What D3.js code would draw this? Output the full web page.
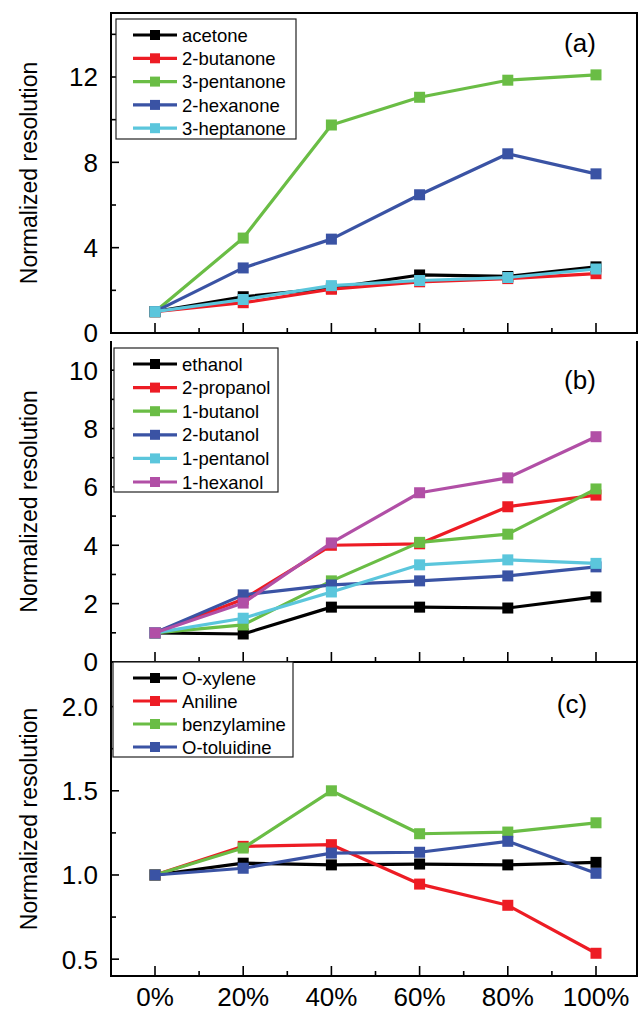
<!DOCTYPE html>
<html>
<head>
<meta charset="utf-8">
<script src="https://cdn.jsdelivr.net/npm/d3@7"></script>
<style>
  html, body { margin: 0; padding: 0; background: #fff; }
  svg { display: block; font-family: "Liberation Sans", Arial, sans-serif; }
</style>
</head>
<body>
<svg id="chart" width="639" height="1011"></svg>
<script>
// x categories (solvent fraction)
const xValues = [0, 20, 40, 60, 80, 100];
const xLabels = ["0%", "20%", "40%", "60%", "80%", "100%"];

// panel (a) ketones
const ketoneNames = ["acetone", "2-butanone", "3-pentanone", "2-hexanone", "3-heptanone"];
const acetone    = [1.0, 1.7, 2.1, 2.72, 2.65, 3.1];
const butanone2  = [1.0, 1.42, 2.05, 2.4, 2.55, 2.78];
const pentanone3 = [1.0, 4.45, 9.75, 11.05, 11.85, 12.1];
const hexanone2  = [1.0, 3.05, 4.4, 6.48, 8.4, 7.46];
const heptanone3 = [1.0, 1.57, 2.22, 2.46, 2.6, 3.0];

// panel (b) alcohols
const alcoholNames = ["ethanol", "2-propanol", "1-butanol", "2-butanol", "1-pentanol", "1-hexanol"];
const ethanol    = [1.0, 0.96, 1.88, 1.88, 1.85, 2.23];
const propanol2  = [1.0, 2.15, 4.0, 4.05, 5.32, 5.72];
const butanol1   = [1.0, 1.27, 2.78, 4.1, 4.38, 5.93];
const butanol2   = [1.0, 2.3, 2.64, 2.78, 2.95, 3.26];
const pentanol1  = [1.0, 1.5, 2.4, 3.33, 3.5, 3.38];
const hexanol1   = [1.0, 2.02, 4.08, 5.8, 6.31, 7.72];

// panel (c) aromatics
const aromaticNames = ["O-xylene", "Aniline", "benzylamine", "O-toluidine"];
const oXylene     = [1.0, 1.07, 1.06, 1.065, 1.06, 1.075];
const aniline     = [1.0, 1.17, 1.18, 0.946, 0.82, 0.535];
const benzylamine = [1.0, 1.16, 1.5, 1.245, 1.255, 1.31];
const oToluidine  = [1.0, 1.04, 1.13, 1.135, 1.2, 1.01];

const colors = ["#000000", "#ed1c24", "#6abd45", "#3a53a4", "#5bc6dc", "#b14fa6"];

const panels = [
  { tag: "(a)", names: ketoneNames, values: [acetone, butanone2, pentanone3, hexanone2, heptanone3],
    top: 13, bottom: 333, domain: [0, 15], major: [0, 4, 8, 12], minor: [2, 6, 10, 14], fmt: d3.format("d"),
    topLine: true, legend: { x: 116, y: 19, w: 180, h: 120, row0: 35, step: 23.3 }, tagY: 52 },
  { tag: "(b)", names: alcoholNames, values: [ethanol, propanol2, butanol1, butanol2, pentanol1, hexanol1],
    top: 341, bottom: 662, domain: [0, 11], major: [0, 2, 4, 6, 8, 10], minor: [1, 3, 5, 7, 9], fmt: d3.format("d"),
    topLine: false, legend: { x: 114, y: 348, w: 164, h: 144, row0: 364, step: 23.6 }, tagY: 389 },
  { tag: "(c)", names: aromaticNames, values: [oXylene, aniline, benzylamine, oToluidine],
    top: 662, bottom: 976, domain: [0.4, 2.265], major: [0.5, 1.0, 1.5, 2.0], minor: [0.75, 1.25, 1.75], fmt: d3.format(".1f"),
    topLine: false, legend: { x: 113, y: 662, w: 180, h: 95, row0: 678, step: 23 }, tagY: 713, tagX: 572 }
];

const svg = d3.select("#chart");
const left = 111, right = 637;
const x = d3.scaleLinear().domain([0, 100]).range([155, 596]);
const xMinor = [10, 30, 50, 70, 90];

panels.forEach((p, pi) => {
  const y = d3.scaleLinear().domain(p.domain).range([p.bottom, p.top]);
  const g = svg.append("g");

  // series lines and markers
  p.values.forEach((vals, si) => {
    const pts = vals.map((v, i) => [xValues[i], v]);
    g.append("path")
      .datum(pts)
      .attr("fill", "none")
      .attr("stroke", colors[si])
      .attr("stroke-width", 3.2)
      .attr("stroke-linejoin", "round")
      .attr("d", d3.line().x(d => x(d[0])).y(d => y(d[1])));
    g.selectAll(null)
      .data(pts)
      .join("rect")
      .attr("x", d => x(d[0]) - 5.5)
      .attr("y", d => y(d[1]) - 5.5)
      .attr("width", 11)
      .attr("height", 11)
      .attr("fill", colors[si]);
  });

  // frame
  const frame = g.append("g").attr("stroke", "#000").attr("stroke-width", 2).attr("fill", "none");
  frame.append("line").attr("x1", left).attr("x2", left).attr("y1", p.top).attr("y2", p.bottom);
  frame.append("line").attr("x1", right).attr("x2", right).attr("y1", p.top).attr("y2", p.bottom);
  frame.append("line").attr("x1", left - 1).attr("x2", right + 1).attr("y1", p.bottom).attr("y2", p.bottom);
  if (p.topLine) frame.append("line").attr("x1", left - 1).attr("x2", right + 1).attr("y1", p.top).attr("y2", p.top);

  // x ticks (inward)
  const ticks = g.append("g").attr("stroke", "#000").attr("stroke-width", 1.6);
  ticks.selectAll(null).data(xValues).join("line")
    .attr("x1", d => x(d)).attr("x2", d => x(d))
    .attr("y1", p.bottom).attr("y2", p.bottom - 10);
  ticks.selectAll(null).data(xMinor).join("line")
    .attr("x1", d => x(d)).attr("x2", d => x(d))
    .attr("y1", p.bottom).attr("y2", p.bottom - 5);

  // y ticks (inward)
  ticks.selectAll(null).data(p.major).join("line")
    .attr("x1", left).attr("x2", left + 8)
    .attr("y1", d => y(d)).attr("y2", d => y(d));
  ticks.selectAll(null).data(p.minor).join("line")
    .attr("x1", left).attr("x2", left + 5)
    .attr("y1", d => y(d)).attr("y2", d => y(d));

  g.selectAll(null).data(p.major).join("text")
    .attr("x", 98)
    .attr("y", d => y(d))
    .attr("dy", "0.36em")
    .attr("text-anchor", "end")
    .attr("font-size", 26)
    .text(p.fmt);

  // y title
  g.append("text")
    .attr("transform", `translate(37, ${(p.top + p.bottom) / 2}) rotate(-90)`)
    .attr("text-anchor", "middle")
    .attr("font-size", 23)
    .text("Normalized resolution");

  // panel tag
  g.append("text")
    .attr("x", p.tagX || 580)
    .attr("y", p.tagY)
    .attr("text-anchor", "middle")
    .attr("font-size", 26)
    .text(p.tag);

  // legend
  const L = p.legend;
  g.append("rect")
    .attr("x", L.x).attr("y", L.y).attr("width", L.w).attr("height", L.h)
    .attr("fill", "#fff").attr("stroke", "#222").attr("stroke-width", 1.2);
  const rows = g.selectAll(null).data(p.names).join("g")
    .attr("transform", (d, i) => `translate(0, ${L.row0 + i * L.step})`);
  rows.append("line")
    .attr("x1", 133).attr("x2", 177).attr("y1", 0).attr("y2", 0)
    .attr("stroke", (d, i) => colors[i]).attr("stroke-width", 3.2);
  rows.append("rect")
    .attr("x", 150).attr("y", -5).attr("width", 10).attr("height", 10)
    .attr("fill", (d, i) => colors[i]);
  rows.append("text")
    .attr("x", 182).attr("y", 0).attr("dy", "0.36em")
    .attr("font-size", 18.5)
    .text(d => d);

  // x labels only on the last panel
  if (pi === panels.length - 1) {
    g.selectAll(null).data(xValues).join("text")
      .attr("x", d => x(d))
      .attr("y", 1006)
      .attr("text-anchor", "middle")
      .attr("font-size", 26)
      .text((d, i) => xLabels[i]);
  }
});
</script>
</body>
</html>
